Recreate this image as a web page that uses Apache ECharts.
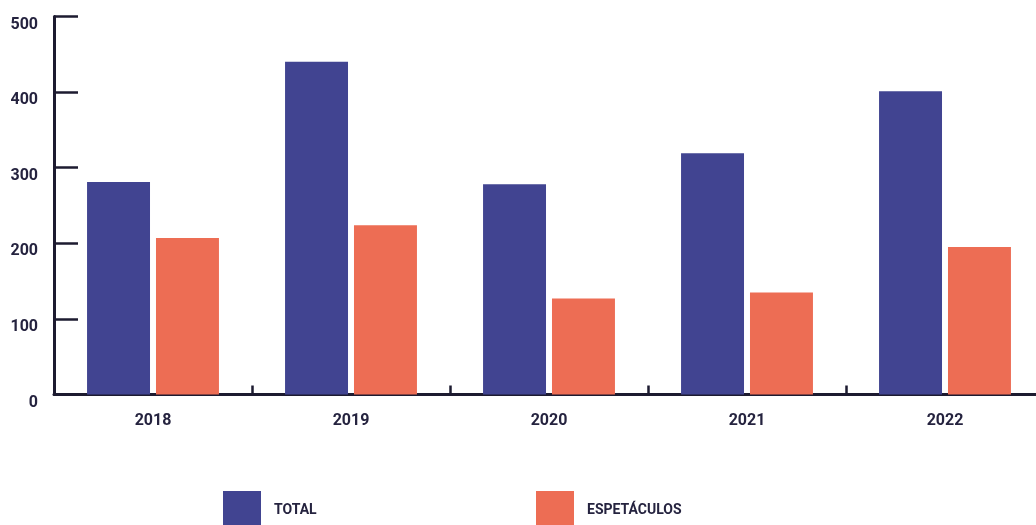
<!DOCTYPE html>
<html>
<head>
<meta charset="utf-8">
<style>
  html, body { margin: 0; padding: 0; background: #ffffff; }
  #chart { width: 1036px; height: 525px; }
</style>
<script src="https://cdn.jsdelivr.net/npm/echarts@6/dist/echarts.min.js"></script>
</head>
<body>
<div id="chart"></div>
<script>
// Annual counts: all events vs. performances
const years = ['2018', '2019', '2020', '2021', '2022'];
const totalValues = [281, 440, 278, 319, 401];
const espetaculosValues = [207, 224, 127, 135, 195];
const yTicks = { min: 0, max: 500, step: 100 };

const ink = '#1d1b30';
const labelColor = '#25233f';
const fontFamily = 'Roboto, "Noto Sans", sans-serif';

const chart = echarts.init(document.getElementById('chart'));

const legendBase = {
  top: 491, padding: 0,
  itemWidth: 38, itemHeight: 38, itemGap: 13,
  icon: 'rect',
  selectedMode: false,
  textStyle: { color: labelColor, fontFamily, fontWeight: 700, fontSize: 14, padding: [0, 0, 0, 8] }
};

chart.setOption({
  backgroundColor: '#ffffff',
  animation: false,
  // the plot runs a little past the right edge of the canvas
  grid: {
    left: 54, width: 990, top: 16.5, bottom: 130.5,
    containLabel: false, outerBoundsMode: 'none'
  },
  legend: [
    Object.assign({}, legendBase, { data: ['TOTAL'], left: 223 }),
    Object.assign({}, legendBase, { data: ['ESPETÁCULOS'], left: 536 })
  ],
  xAxis: {
    type: 'category',
    data: years,
    boundaryGap: true,
    axisLine: { show: true, lineStyle: { color: ink, width: 3 } },
    axisTick: { show: true, inside: true, length: 9, lineStyle: { color: ink, width: 2.5 } },
    axisLabel: { color: labelColor, fontFamily, fontWeight: 700, fontSize: 16, margin: 18 },
    splitLine: { show: false }
  },
  yAxis: {
    type: 'value',
    min: yTicks.min, max: yTicks.max, interval: yTicks.step,
    axisLine: { show: true, lineStyle: { color: ink, width: 3 } },
    axisTick: { show: true, inside: true, length: 24, lineStyle: { color: ink, width: 2.5 } },
    axisLabel: {
      color: labelColor, fontFamily, fontWeight: 700, fontSize: 16,
      margin: 16, verticalAlign: 'top'
    },
    splitLine: { show: false }
  },
  series: [
    {
      name: 'TOTAL',
      type: 'bar',
      data: totalValues,
      barWidth: '31.8%',
      barGap: '9.5%',
      itemStyle: { color: '#414491' }
    },
    {
      name: 'ESPETÁCULOS',
      type: 'bar',
      data: espetaculosValues,
      barWidth: '31.8%',
      itemStyle: { color: '#ed6d54' }
    }
  ]
});
</script>
</body>
</html>
